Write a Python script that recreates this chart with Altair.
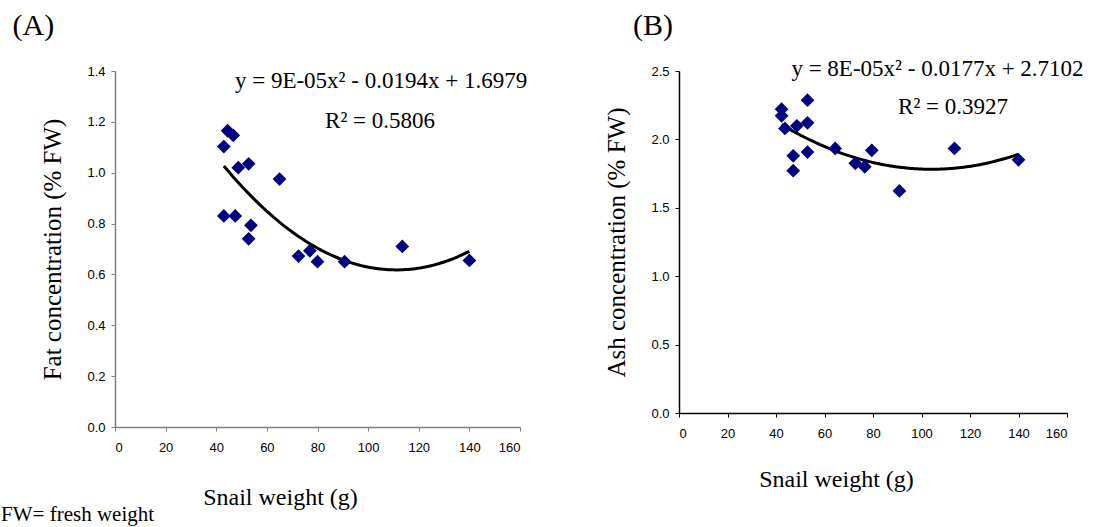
import altair as alt
import pandas as pd

# Panel A: fat concentration vs snail weight
a_weight = [43.0, 44.5, 46.7, 48.7, 52.8, 65.0, 43.0, 47.5, 53.7, 52.8, 72.5, 77.0, 80.0, 90.7, 113.5, 140.0]
a_fat = [1.103, 1.165, 1.147, 1.020, 1.035, 0.975, 0.830, 0.830, 0.793, 0.740, 0.672, 0.693, 0.650, 0.650, 0.710, 0.655]

# Panel B: ash concentration vs snail weight
b_weight = [42.3, 42.3, 43.7, 48.6, 47.1, 47.1, 53.0, 53.0, 53.0, 64.4, 72.7, 76.6, 79.5, 90.9, 113.6, 140.0]
b_ash = [2.221, 2.172, 2.080, 2.099, 1.880, 1.771, 2.287, 2.121, 1.907, 1.934, 1.825, 1.800, 1.920, 1.623, 1.934, 1.851]

x_ticks = [0, 20, 40, 60, 80, 100, 120, 140, 160]
a_y_ticks = [0.0, 0.2, 0.4, 0.6, 0.8, 1.0, 1.2, 1.4]
b_y_ticks = [0.0, 0.5, 1.0, 1.5, 2.0, 2.5]

a_eq = ["y = 9E-05x\u00b2 - 0.0194x + 1.6979", "R\u00b2 = 0.5806"]
a_eq_x = [105.1, 104.7]
a_eq_y = [1.333, 1.175]
b_eq = ["y = 8E-05x\u00b2 - 0.0177x + 2.7102", "R\u00b2 = 0.3927"]
b_eq_x = [106.6, 113.0]
b_eq_y = [2.466, 2.186]

a_letter = ["(A)"]
a_letter_x = [-40.5]
a_letter_y = [1.636]
b_letter = ["(B)"]
b_letter_x = [-19.0]
b_letter_y = [2.939]

note_text = ["FW= fresh weight"]
note_x = [-45.0]
note_y = [-0.37]

SERIF = "Liberation Serif"
SANS = "Liberation Sans"
NAVY = "#000080"


def text_layer(xs, ys, texts, size, align, baseline):
    df = pd.DataFrame({"x": xs, "y": ys, "t": texts})
    return alt.Chart(df).mark_text(
        font=SERIF, fontSize=size, align=align, baseline=baseline, color="black"
    ).encode(x=alt.X("x:Q"), y=alt.Y("y:Q"), text="t:N")


def panel(weights, values, y_title, y_max, y_ticks, w, h, axis_color,
          eq_text, eq_x, eq_y, letter_layer, x_title_x, x_title_y, extra=None):
    df = pd.DataFrame({"w": weights, "v": values})
    x_enc = alt.X(
        "w:Q",
        scale=alt.Scale(domain=[0, 160], nice=False, zero=False),
        axis=alt.Axis(
            values=x_ticks, title="Snail weight (g)", grid=False,
            domainColor=axis_color, tickColor=axis_color, domainWidth=1.5,
            tickSize=4, labelPadding=10, labelFont=SANS, labelFontSize=13,
            labelColor="black", titleFont=SERIF, titleFontSize=24,
            titleFontWeight="normal", titleColor="black",
            titleX=x_title_x, titleY=x_title_y, titleBaseline="alphabetic",
            titleAnchor="start", titleAlign="center",
        ),
    )
    y_enc = alt.Y(
        "v:Q",
        scale=alt.Scale(domain=[0, y_max], nice=False, zero=True),
        axis=alt.Axis(
            values=y_ticks, format=".1f", title=y_title, grid=False,
            domainColor=axis_color, tickColor=axis_color, domainWidth=1.5,
            tickSize=4, labelPadding=6, labelFont=SANS, labelFontSize=13,
            labelColor="black", titleFont=SERIF, titleFontSize=25,
            titleFontWeight="normal", titleColor="black",
            titleX=-63, titleY=h / 2, titleAngle=-90, titleBaseline="middle",
            titleAlign="center", titleAnchor="start",
        ),
    )
    points = alt.Chart(df).mark_point(
        shape="diamond", filled=True, size=190, color=NAVY, opacity=1
    ).encode(x=x_enc, y=y_enc)
    trend = alt.Chart(df).transform_regression(
        "w", "v", method="poly", order=2
    ).mark_line(color="black", strokeWidth=3).encode(x=x_enc, y=y_enc)
    eq = text_layer(eq_x, eq_y, eq_text, 23, "center", "alphabetic")
    layers = [trend, points, eq, letter_layer]
    if extra is not None:
        layers.append(extra)
    return alt.layer(*layers).properties(width=w, height=h)


note = text_layer(note_x, note_y, note_text, 21, "left", "alphabetic")
a_let = text_layer(a_letter_x, a_letter_y, a_letter, 30, "left", "top")
b_let = text_layer(b_letter_x, b_letter_y, b_letter, 30, "left", "top")

panel_a = panel(a_weight, a_fat, "Fat concentration (% FW)", 1.4, a_y_ticks, 405, 356,
                "#808080", a_eq, a_eq_x, a_eq_y, a_let, 165, 77, extra=note)
panel_b = panel(b_weight, b_ash, "Ash concentration (% FW)", 2.5, b_y_ticks, 388, 342,
                "black", b_eq, b_eq_x, b_eq_y, b_let, 157, 73)

chart = alt.hconcat(panel_a, panel_b, spacing=159, bounds="flush").resolve_scale(
    x="independent", y="independent"
).properties(
    padding={"left": 1, "top": 10, "right": 0, "bottom": 0},
    background="white",
).configure_view(stroke=None)

chart.save("out.html", embed_options={"renderer": "svg", "actions": False})
